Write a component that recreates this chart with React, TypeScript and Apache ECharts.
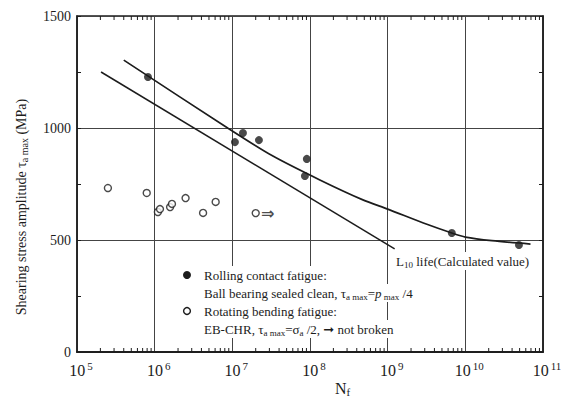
import React, { useEffect, useRef } from "react";
import * as echarts from "echarts";

// ---- data ----
const yTicks = [0, 500, 1000, 1500];
const xDecades = [5, 6, 7, 8, 9, 10, 11];

// Rolling contact fatigue (filled circles)
const rollingN = [8.2e5, 1.08e7, 1.37e7, 2.2e7, 9.1e7, 8.6e7, 6.7e9, 4.9e10];
const rollingTau = [1228, 937, 978, 946, 862, 786, 531, 478];

// Rotating bending fatigue (open circles)
const bendingN = [2.5e5, 7.9e5, 1.1e6, 1.17e6, 1.58e6, 1.67e6, 2.5e6, 4.2e6, 6.1e6, 2.0e7];
const bendingTau = [732, 710, 625, 638, 647, 661, 687, 621, 670, 620];
const notBrokenIndex = 9;

// Fitted curve through rolling contact data
const fitN = [4.0e5, 8.7e6, 3.2e7, 1.34e8, 4.8e8, 1.0e9, 3.2e9, 6.7e9, 1.0e10, 2.2e10, 6.9e10];
const fitTau = [1303, 1000, 878, 768, 679, 638, 570, 531, 513, 497, 482];

// L10 life (calculated value) straight line
const l10N = [2.04e5, 1.23e9];
const l10Tau = [1250, 460];

// minor tick positions of the log axis (2..9 x 10^n)
const minorTickN: number[] = [];
for (let d = 5; d < 11; d++) {
  for (let k = 2; k <= 9; k++) minorTickN.push(k * Math.pow(10, d));
}

const FONT = "Liberation Serif";
const INK = "#1c1c1c";

export default function App() {
  const ref = useRef<HTMLDivElement>(null);
  useEffect(() => {
    if (!ref.current) return;
    const chart = echarts.init(ref.current, undefined, { renderer: "svg" });

    const subRich = {
      m: { fontFamily: FONT, fontSize: 13, fill: INK, lineHeight: 16 },
      s: { fontFamily: FONT, fontSize: 9, fill: INK, verticalAlign: "bottom", lineHeight: 11 },
      i: { fontFamily: FONT, fontSize: 13, fill: INK, fontStyle: "italic", lineHeight: 16 },
      a: { fontFamily: "DejaVu Sans", fontSize: 13, fill: INK, lineHeight: 16 },
    } as any;

    const legendText = (x: number, y: number, text: string) => ({
      type: "text",
      x,
      y,
      z: 100,
      style: {
        text,
        rich: subRich,
        fontFamily: FONT,
        fontSize: 13,
        fill: INK,
        verticalAlign: "middle",
        backgroundColor: "#ffffff",
        padding: [1, 3],
      },
    });

    const option: any = {
      animation: false,
      backgroundColor: "#ffffff",
      textStyle: { fontFamily: FONT },
      grid: {
        left: 77,
        right: 23,
        top: 16,
        bottom: 44,
        show: true,
        borderColor: INK,
        borderWidth: 1.5,
        backgroundColor: "transparent",
      },
      xAxis: [
        {
          type: "log",
          logBase: 10,
          min: Math.pow(10, xDecades[0]),
          max: Math.pow(10, xDecades[xDecades.length - 1]),
          splitNumber: 6,
          axisLine: { show: true, lineStyle: { color: INK, width: 1.5 } },
          axisTick: { show: false },
          splitLine: { show: true, lineStyle: { color: "#444", width: 1 } },
          axisLabel: {
            margin: 8,
            fontFamily: FONT,
            formatter: (v: number) => `{b|10}{s|${Math.round(Math.log10(v))}}`,
            rich: {
              b: { fontFamily: FONT, fontSize: 16, color: INK, lineHeight: 20, padding: [0, 0, 0, 8] },
              s: { fontFamily: FONT, fontSize: 11, color: INK, verticalAlign: "top", lineHeight: 20, padding: [0, 0, 0, 2] },
            },
          },
        },
        {
          type: "log",
          logBase: 10,
          position: "top",
          min: Math.pow(10, xDecades[0]),
          max: Math.pow(10, xDecades[xDecades.length - 1]),
          axisLine: { show: true, lineStyle: { color: INK, width: 1.5 } },
          axisTick: { show: false },
          axisLabel: { show: false },
          splitLine: { show: false },
        },
      ],
      yAxis: [
        {
          type: "value",
          min: yTicks[0],
          max: yTicks[yTicks.length - 1],
          interval: 500,
          axisLine: { show: true, lineStyle: { color: INK, width: 1.5 } },
          axisTick: { show: true, inside: true, length: 4, lineStyle: { color: INK } },
          minorTick: { show: true, splitNumber: 2, length: 4, lineStyle: { color: INK } },
          splitLine: { show: true, lineStyle: { color: "#444", width: 1 } },
          axisLabel: {
            fontFamily: FONT,
            fontSize: 14,
            color: INK,
            margin: 6,
            formatter: (v: number) => String(v),
          },
        },
        {
          type: "value",
          position: "right",
          min: yTicks[0],
          max: yTicks[yTicks.length - 1],
          interval: 500,
          axisLine: { show: true, lineStyle: { color: INK, width: 1.5 } },
          axisTick: { show: true, inside: true, length: 4, lineStyle: { color: INK } },
          minorTick: { show: true, splitNumber: 2, length: 4, lineStyle: { color: INK } },
          splitLine: { show: false },
          axisLabel: { show: false },
        },
      ],
      series: [
        {
          type: "custom",
          name: "minorTicks",
          silent: true,
          clip: false,
          data: minorTickN.map((n) => [n, 0]),
          encode: { x: 0, y: 1 },
          renderItem: (params: any, api: any) => {
            const v = api.value(0);
            const b = api.coord([v, yTicks[0]]);
            const t = api.coord([v, yTicks[yTicks.length - 1]]);
            const st = { stroke: INK, lineWidth: 1 };
            return {
              type: "group",
              children: [
                { type: "line", shape: { x1: b[0], y1: b[1], x2: b[0], y2: b[1] - 4 }, style: st },
                { type: "line", shape: { x1: t[0], y1: t[1], x2: t[0], y2: t[1] + 4 }, style: st },
              ],
            };
          },
          z: 3,
        },
        {
          type: "line",
          name: "fit",
          data: fitN.map((n, i) => [n, fitTau[i]]),
          smooth: 0.25,
          showSymbol: false,
          lineStyle: { color: INK, width: 1.7 },
          z: 4,
        },
        {
          type: "line",
          name: "L10",
          data: l10N.map((n, i) => [n, l10Tau[i]]),
          showSymbol: false,
          lineStyle: { color: INK, width: 1.5 },
          z: 4,
        },
        {
          type: "scatter",
          name: "Rolling contact fatigue",
          data: rollingN.map((n, i) => [n, rollingTau[i]]),
          symbol: "circle",
          symbolSize: 8,
          itemStyle: { color: INK },
          z: 5,
        },
        {
          type: "scatter",
          name: "Rotating bending fatigue",
          data: bendingN.map((n, i) =>
            i === notBrokenIndex
              ? {
                  value: [n, bendingTau[i]],
                  label: {
                    show: true,
                    position: "right",
                    distance: 1,
                    formatter: "⇒",
                    fontSize: 16,
                    fontWeight: "bold",
                    color: INK,
                    fontFamily: "DejaVu Sans",
                  },
                }
              : [n, bendingTau[i]]
          ),
          symbol: "circle",
          symbolSize: 7,
          itemStyle: { color: "#ffffff", borderColor: INK, borderWidth: 1.4 },
          z: 5,
        },
      ],
      graphic: [
        {
          type: "text",
          x: 21,
          y: 207,
          rotation: Math.PI / 2,
          z: 100,
          style: {
            text: "{m|Shearing stress amplitude τ}{s|a max}{m| (MPa)}",
            fontFamily: FONT,
            fontSize: 14,
            fill: INK,
            align: "center",
            verticalAlign: "middle",
            rich: {
              m: { fontFamily: FONT, fontSize: 14, fill: INK, lineHeight: 17 },
              s: { fontFamily: FONT, fontSize: 10, fill: INK, verticalAlign: "bottom", lineHeight: 12 },
            },
          },
        },
        {
          type: "text",
          x: 335,
          y: 379,
          z: 100,
          style: {
            text: "{n|N}{f|f}",
            fontFamily: FONT,
            rich: {
              n: { fontFamily: FONT, fontSize: 16, fill: INK, lineHeight: 18 },
              f: { fontFamily: FONT, fontSize: 11, fill: INK, verticalAlign: "bottom", lineHeight: 12 },
            },
          },
        },
        legendText(393, 261, "{m|L}{s|10}{m| life(Calculated value)}"),
        {
          type: "circle",
          z: 100,
          shape: { cx: 187, cy: 275, r: 4 },
          style: { fill: INK },
        },
        {
          type: "circle",
          z: 100,
          shape: { cx: 187, cy: 311, r: 3.4 },
          style: { fill: "#ffffff", stroke: INK, lineWidth: 1.4 },
        },
        legendText(201, 275, "{m|Rolling contact fatigue:}"),
        legendText(201, 293, "{m|Ball bearing sealed clean, τ}{s|a max}{m|=}{i|p}{s| max}{m| /4}"),
        legendText(201, 311, "{m|Rotating bending fatigue:}"),
        legendText(201, 329, "{m|EB-CHR, τ}{s|a max}{m|=σ}{s|a}{m| /2, }{a|➞}{m| not broken}"),
      ],
    };

    chart.setOption(option);
    return () => chart.dispose();
  }, []);

  return (
    <div
      ref={ref}
      style={{ position: "absolute", left: 0, top: 0, width: 566, height: 396, background: "#fff" }}
    />
  );
}
